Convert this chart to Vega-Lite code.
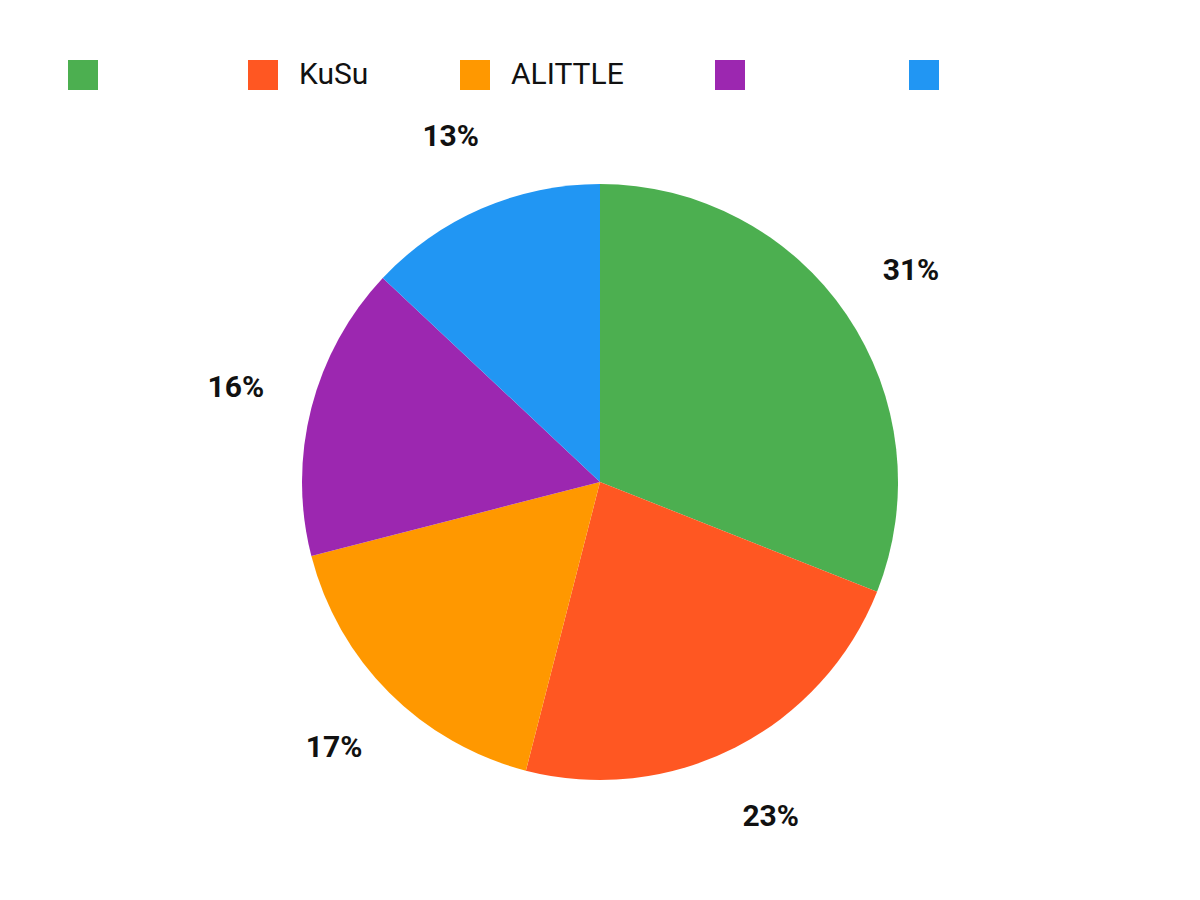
{
  "$schema": "https://vega.github.io/schema/vega-lite/v6.json",
  "width": 1200,
  "height": 900,
  "padding": {"left": 0, "top": 32, "right": 0, "bottom": 0},
  "autosize": {"type": "none"},
  "background": "white",
  "config": {"view": {"stroke": null}, "font": "Roboto"},
  "data": {
    "values": [
      {"brand": "S1", "share": 0.31, "rank": 1},
      {"brand": "KuSu", "share": 0.23, "rank": 2},
      {"brand": "ALITTLE", "share": 0.17, "rank": 3},
      {"brand": "S4", "share": 0.16, "rank": 4},
      {"brand": "S5", "share": 0.13, "rank": 5}
    ]
  },
  "encoding": {
    "theta": {"field": "share", "type": "quantitative", "stack": true},
    "order": {"field": "rank", "type": "quantitative"},
    "color": {
      "field": "brand",
      "type": "nominal",
      "sort": ["S1", "KuSu", "ALITTLE", "S4", "S5"],
      "scale": {
        "domain": ["S1", "KuSu", "ALITTLE", "S4", "S5"],
        "range": ["#4CAF50", "#FF5722", "#FF9800", "#9C27B0", "#2196F3"]
      },
      "legend": {
        "orient": "none",
        "legendX": 68,
        "legendY": 28,
        "direction": "horizontal",
        "title": null,
        "padding": 0,
        "symbolType": "square",
        "symbolSize": 900,
        "symbolStrokeWidth": 0,
        "symbolOpacity": 1,
        "labelFont": "Roboto",
        "labelFontSize": 30,
        "labelColor": "#111111",
        "labelOffset": 21,
        "columnPadding": 91,
        "labelLimit": 400,
        "labelExpr": "datum.label == 'S1' ? '\u2800\u2002\u200b' : datum.label == 'S4' ? '\u2800\u2800\u2005\u200b' : (datum.label == 'S5' ? '\u2800' : datum.label)"
      }
    }
  },
  "layer": [
    {"mark": {"type": "arc", "radius": 298, "stroke": null}},
    {
      "mark": {"type": "text", "radius": 376, "fontSize": 30, "fontWeight": "bold", "font": "Roboto", "fill": "#111111"},
      "encoding": {
        "text": {"field": "share", "type": "quantitative", "format": ".0%"},
        "color": {"value": "#111111"}
      }
    }
  ]
}
